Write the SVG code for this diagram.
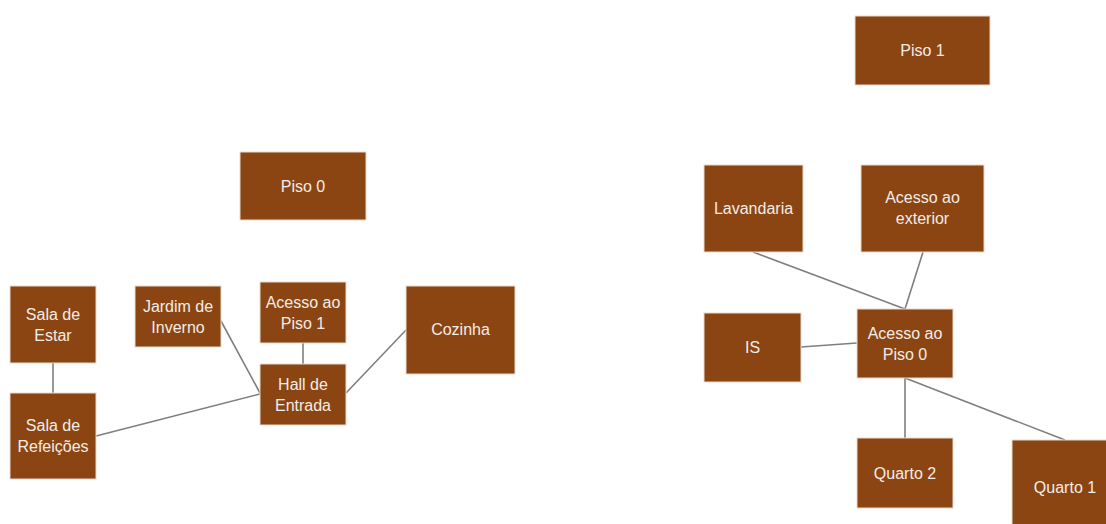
<svg xmlns="http://www.w3.org/2000/svg" width="1106" height="524" viewBox="0 0 1106 524">
<style>
.box{fill:#8B4513;stroke:#EAD9CC;stroke-width:1}
.lbl{font-family:"Liberation Sans",Arial,sans-serif;font-size:16px;fill:#F4ECE6;text-anchor:middle}
.edge{stroke:#7F7F7F;stroke-width:1.6;fill:none}
</style>
<rect width="1106" height="524" fill="#ffffff"/>
<g id="connectors">
<line class="edge" x1="53" y1="363" x2="53" y2="393"/>
<line class="edge" x1="96" y1="436" x2="260" y2="394"/>
<line class="edge" x1="221" y1="321" x2="260" y2="393"/>
<line class="edge" x1="303" y1="343" x2="303" y2="364"/>
<line class="edge" x1="346" y1="393" x2="406" y2="330"/>
<line class="edge" x1="753" y1="252" x2="905" y2="309"/>
<line class="edge" x1="923" y1="252" x2="905" y2="309"/>
<line class="edge" x1="801" y1="347" x2="857" y2="343"/>
<line class="edge" x1="905" y1="378" x2="905" y2="438"/>
<line class="edge" x1="905" y1="378" x2="1065" y2="440"/>
</g>
<g id="piso0">
<rect class="box" x="240" y="152" width="126" height="68"/>
<text class="lbl" x="303" y="192">Piso 0</text>
</g>
<g id="piso1">
<rect class="box" x="855" y="16" width="135" height="69"/>
<text class="lbl" x="922.5" y="56">Piso 1</text>
</g>
<g id="sala-estar">
<rect class="box" x="10" y="286" width="86" height="77"/>
<text class="lbl" x="53" y="320">Sala de</text>
<text class="lbl" x="53" y="341">Estar</text>
</g>
<g id="sala-refeicoes">
<rect class="box" x="10" y="393" width="86" height="86"/>
<text class="lbl" x="53" y="431">Sala de</text>
<text class="lbl" x="53" y="452">Refeições</text>
</g>
<g id="jardim">
<rect class="box" x="135" y="286" width="86" height="61"/>
<text class="lbl" x="178" y="312">Jardim de</text>
<text class="lbl" x="178" y="333">Inverno</text>
</g>
<g id="acesso-piso1">
<rect class="box" x="260" y="282" width="86" height="61"/>
<text class="lbl" x="303" y="308">Acesso ao</text>
<text class="lbl" x="303" y="329">Piso 1</text>
</g>
<g id="hall">
<rect class="box" x="260" y="364" width="86" height="61"/>
<text class="lbl" x="303" y="390">Hall de</text>
<text class="lbl" x="303" y="411">Entrada</text>
</g>
<g id="cozinha">
<rect class="box" x="406" y="286" width="109" height="88"/>
<text class="lbl" x="460.5" y="335">Cozinha</text>
</g>
<g id="lavandaria">
<rect class="box" x="704" y="165" width="99" height="87"/>
<text class="lbl" x="753.5" y="214">Lavandaria</text>
</g>
<g id="acesso-exterior">
<rect class="box" x="861" y="165" width="123" height="87"/>
<text class="lbl" x="922.5" y="203">Acesso ao</text>
<text class="lbl" x="922.5" y="224">exterior</text>
</g>
<g id="is">
<rect class="box" x="704" y="313" width="97" height="69"/>
<text class="lbl" x="752.5" y="353">IS</text>
</g>
<g id="acesso-piso0">
<rect class="box" x="857" y="309" width="96" height="69"/>
<text class="lbl" x="905" y="339">Acesso ao</text>
<text class="lbl" x="905" y="360">Piso 0</text>
</g>
<g id="quarto2">
<rect class="box" x="857" y="438" width="96" height="70"/>
<text class="lbl" x="905" y="479">Quarto 2</text>
</g>
<g id="quarto1">
<rect class="box" x="1012" y="440" width="106" height="94"/>
<text class="lbl" x="1065" y="493">Quarto 1</text>
</g>
</svg>
